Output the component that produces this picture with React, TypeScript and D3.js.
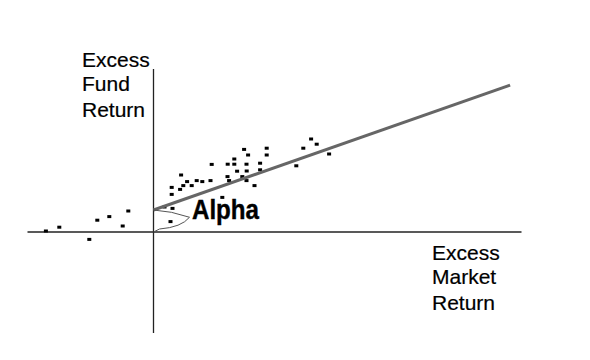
import React from "react";
import * as d3 from "d3";

// Excess market return (x) and excess fund return (y) observations
const marketReturns: number[] = [
  -5.38, -4.71, -3.21, -2.81, -2.21, -1.54, -1.26, 0.55, 0.95, 0.85, 0.91, 0.91,
  1.33, 1.49, 1.68, 1.91, 1.38, 2.16, 2.44, 2.85, 2.91, 3.71, 4.04, 4.04, 4.53,
  4.73, 4.65, 4.18, 4.66, 3.7, 3.78, 4.44, 4.65, 5.05, 5.33, 5.33, 5.66, 5.66,
  3.44, 7.14, 7.49, 7.88, 8.16, 8.78,
];
const fundReturns: number[] = [
  0.05, 0.24, -0.37, 0.59, 0.77, 0.3, 1.05, 1.25, 1.18, 0.52, 1.88, 2.23, 2.13,
  2.32, 2.52, 2.32, 2.85, 2.57, 2.52, 2.57, 3.38, 3.39, 3.39, 3.65, 4.13, 3.85,
  3.39, 3.04, 3.05, 2.77, 2.57, 2.77, 2.57, 2.32, 3.44, 3.11, 4.19, 3.85, 1.73,
  3.31, 4.19, 4.65, 4.39, 3.9,
];
// Characteristic line
const alpha = 1.1;
const beta = 0.35;
const lineEndX = 17.83;
const xAxisExtent: number[] = [-6.3, 18.4];
const yAxisExtent: number[] = [-5.05, 8.15];
const fundLabel: string[] = ["Excess", "Fund", "Return"];
const marketLabel: string[] = ["Excess", "Market", "Return"];
const alphaLabel = "Alpha";

const W = 590;
const H = 360;

export default function App() {
  const x = d3.scaleLinear().domain([-6, 18.5]).range([33.5, 523.5]);
  const y = d3.scaleLinear().domain([-5, 8.2]).range([332, 68]);

  const x0 = x(0);
  const y0 = y(0);
  const yA = y(alpha);
  const regLine = d3.line<[number, number]>()
    .x((d) => x(d[0]))
    .y((d) => y(d[1]))([
    [0, alpha],
    [lineEndX, alpha + beta * lineEndX],
  ]);

  const tipX = x0 + 36;
  const tipY = yA + (y0 - yA) * 0.33;
  const brace = `M${x0},${yA} Q${x0 + 18},${yA + 1} ${tipX},${tipY} Q${x0 + 28},${tipY + 10} ${x0 + 6},${y0 - 3} L${x0},${y0}`;

  const font = "'Liberation Sans', Arial, sans-serif";
  const fundBaselines = [66.7, 90.5, 116.7];
  const marketBaselines = [260, 283.5, 310];

  return (
    <svg width={W} height={H} style={{ position: "absolute", left: 0, top: 0, background: "#fff" }}>
      <rect width={W} height={H} fill="#fff" />
      {/* axes */}
      <line x1={x(xAxisExtent[0])} x2={x(xAxisExtent[1])} y1={y0} y2={y0} stroke="#222" strokeWidth={1.3} />
      <line x1={x0} x2={x0} y1={y(yAxisExtent[0])} y2={y(yAxisExtent[1])} stroke="#222" strokeWidth={1.3} />
      {/* points */}
      {marketReturns.map((mx, i) => (
        <rect key={i} x={x(mx) - 2} y={y(fundReturns[i]) - 1.5} width={4} height={3} fill="#000" />
      ))}
      {/* regression line */}
      <path d={regLine || ""} stroke="#666" strokeWidth={3} fill="none" />
      {/* alpha brace */}
      <path d={brace} stroke="#555" strokeWidth={1} fill="none" />
      <text x={192} y={218.5} fontFamily={font} fontWeight="bold" fontSize={27} textLength={67} lengthAdjust="spacingAndGlyphs" fill="#000" stroke="#000" strokeWidth={0.4}>
        {alphaLabel}
      </text>
      {fundLabel.map((t, i) => (
        <text key={"f" + i} x={82} y={fundBaselines[i]} fontFamily={font} fontSize={21} fill="#000" stroke="#000" strokeWidth={0.2}>
          {t}
        </text>
      ))}
      {marketLabel.map((t, i) => (
        <text key={"m" + i} x={432} y={marketBaselines[i]} fontFamily={font} fontSize={21} fill="#000" stroke="#000" strokeWidth={0.2}>
          {t}
        </text>
      ))}
    </svg>
  );
}
